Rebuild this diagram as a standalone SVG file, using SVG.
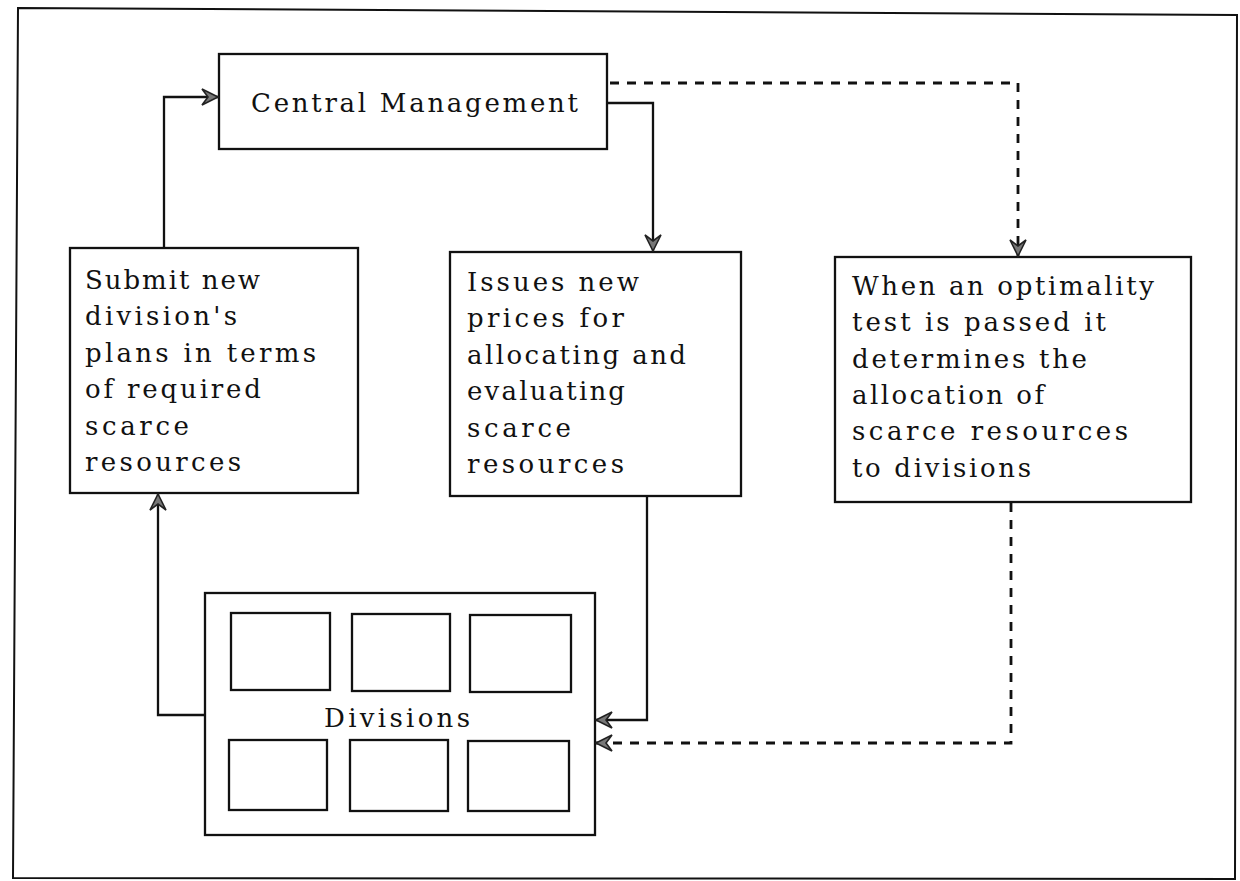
<svg xmlns="http://www.w3.org/2000/svg" width="1240" height="881" viewBox="0 0 1240 881">
<style>
  .box{fill:none;stroke:#111;stroke-width:2.3}
  .cell{fill:none;stroke:#111;stroke-width:2.3}
  .t{font-family:"DejaVu Serif","Liberation Serif",serif;font-size:26px;fill:#111}
  .ln{fill:none;stroke:#111;stroke-width:2.3}
  .dash{fill:none;stroke:#111;stroke-width:2.8;stroke-dasharray:9 8}
</style>
<defs>
  <marker id="ah" markerUnits="userSpaceOnUse" markerWidth="24" markerHeight="24" refX="0" refY="0" viewBox="-20 -12 24 24" orient="auto" overflow="visible">
    <path d="M0,0 L-16,-8 L-10,0 L-16,8 Z" fill="#777" stroke="#222" stroke-width="1.6" stroke-linejoin="miter"/>
  </marker>
</defs>
<rect width="1240" height="881" fill="#fff"/>
<path d="M18,8 L1237,15 L1235,879 L13,878 Z" fill="none" stroke="#111" stroke-width="2"/>

<g id="central-management">
  <rect class="box" x="219" y="54" width="388" height="95"/>
  <text class="t" x="251" y="112" textLength="327" lengthAdjust="spacing">Central Management</text>
</g>

<g id="submit">
  <rect class="box" x="70" y="248" width="288" height="245"/>
  <text class="t" x="85" y="289" textLength="175" lengthAdjust="spacing">Submit new</text>
  <text class="t" x="85" y="325" textLength="152" lengthAdjust="spacing">division's</text>
  <text class="t" x="85" y="362" textLength="231" lengthAdjust="spacing">plans in terms</text>
  <text class="t" x="85" y="398" textLength="176" lengthAdjust="spacing">of required</text>
  <text class="t" x="85" y="435" textLength="104" lengthAdjust="spacing">scarce</text>
  <text class="t" x="85" y="471" textLength="156" lengthAdjust="spacing">resources</text>
</g>

<g id="issues">
  <rect class="box" x="450" y="252" width="291" height="244"/>
  <text class="t" x="467" y="291" textLength="172" lengthAdjust="spacing">Issues new</text>
  <text class="t" x="467" y="327" textLength="157" lengthAdjust="spacing">prices for</text>
  <text class="t" x="467" y="364" textLength="219" lengthAdjust="spacing">allocating and</text>
  <text class="t" x="467" y="400" textLength="158" lengthAdjust="spacing">evaluating</text>
  <text class="t" x="467" y="437" textLength="104" lengthAdjust="spacing">scarce</text>
  <text class="t" x="467" y="473" textLength="157" lengthAdjust="spacing">resources</text>
</g>

<g id="optimality">
  <rect class="box" x="835" y="257" width="356" height="245"/>
  <text class="t" x="852" y="295" textLength="302" lengthAdjust="spacing">When an optimality</text>
  <text class="t" x="852" y="331" textLength="254" lengthAdjust="spacing">test is passed it</text>
  <text class="t" x="852" y="368" textLength="235" lengthAdjust="spacing">determines the</text>
  <text class="t" x="852" y="404" textLength="192" lengthAdjust="spacing">allocation of</text>
  <text class="t" x="852" y="440" textLength="276" lengthAdjust="spacing">scarce resources</text>
  <text class="t" x="852" y="477" textLength="179" lengthAdjust="spacing">to divisions</text>
</g>

<g id="divisions">
  <rect class="box" x="205" y="593" width="390" height="242"/>
  <rect class="cell" x="231" y="613" width="99" height="77"/>
  <rect class="cell" x="352" y="614" width="98" height="77"/>
  <rect class="cell" x="470" y="615" width="101" height="77"/>
  <rect class="cell" x="229" y="740" width="98" height="70"/>
  <rect class="cell" x="350" y="740" width="98" height="71"/>
  <rect class="cell" x="468" y="741" width="101" height="70"/>
  <text class="t" x="324" y="727" textLength="146" lengthAdjust="spacing">Divisions</text>
</g>

<g id="connectors">
  <path class="ln" d="M164,248 V97 H218" marker-end="url(#ah)"/>
  <path class="ln" d="M607,103 H653 V251" marker-end="url(#ah)"/>
  <path class="dash" d="M610,83 H1018 V256" marker-end="url(#ah)"/>
  <path class="ln" d="M647,496 V720 H596" marker-end="url(#ah)"/>
  <path class="dash" d="M1011,503 V743 H596" marker-end="url(#ah)"/>
  <path class="ln" d="M205,715 H158 V494" marker-end="url(#ah)"/>
</g>
</svg>
